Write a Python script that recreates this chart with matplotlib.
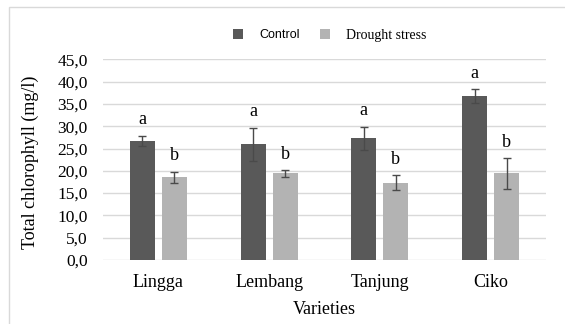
import matplotlib
matplotlib.use("Agg")
import matplotlib.pyplot as plt
import numpy as np
from matplotlib.patches import Patch, Rectangle

categories = ["Lingga", "Lembang", "Tanjung", "Ciko"]
control = [26.7, 25.9, 27.3, 36.8]
control_err = [1.2, 3.7, 2.6, 1.5]
drought = [18.5, 19.4, 17.3, 19.4]
drought_err = [1.3, 0.7, 1.7, 3.4]
control_letters = ["a", "a", "a", "a"]
drought_letters = ["b", "b", "b", "b"]
series_names = ["Control", "Drought stress"]
yticks = [0, 5, 10, 15, 20, 25, 30, 35, 40, 45]

SERIF = ["Liberation Serif", "DejaVu Serif"]
plt.rcParams['font.family'] = SERIF

W, H = 565, 324
fig = plt.figure(figsize=(W / 100, H / 100), dpi=100)
ax = fig.add_axes([103 / W, 1 - 260 / H, (546 - 103) / W, (260 - 59.3) / H])

x = np.arange(len(categories))
bw = 0.225
off = 0.145
c_dark = "#595959"
c_light = "#b3b3b3"
err_kw = dict(ecolor="#4a4a4a", elinewidth=1.0, capsize=3.2, capthick=1.0)

ax.bar(x - off, control, bw, yerr=control_err, color=c_dark, error_kw=err_kw, zorder=3)
ax.bar(x + off, drought, bw, yerr=drought_err, color=c_light, error_kw=err_kw, zorder=3)

for i in range(len(categories)):
    ax.annotate(control_letters[i], (x[i] - off, control[i] + control_err[i]),
                xytext=(0, 5.5), textcoords="offset points", ha="center", va="bottom",
                fontsize=13)
    ax.annotate(drought_letters[i], (x[i] + off, drought[i] + drought_err[i]),
                xytext=(0, 5.5), textcoords="offset points", ha="center", va="bottom",
                fontsize=13)

ax.set_xlim(-0.5, len(categories) - 0.5)
ax.set_ylim(0, 45)
ax.set_yticks(yticks)
ax.set_yticklabels([f"{v:.1f}".replace(".", ",") for v in yticks], fontsize=12.5)
ax.set_xticks(x)
ax.set_xticklabels(categories, fontsize=13)
ax.tick_params(axis="both", length=0)
ax.tick_params(axis="y", pad=11)
ax.tick_params(axis="x", pad=10)
ax.grid(axis="y", color="#d9d9d9", linewidth=1.0, zorder=0)
ax.set_axisbelow(True)
for s in ax.spines.values():
    s.set_visible(False)

fig.text(30 / W, 1 - 162 / H, "Total chlorophyll (mg/l)", rotation=90,
         ha="center", va="center", fontsize=13)
fig.text(324.5 / W, 1 - 310 / H, "Varieties", ha="center", va="center", fontsize=13)

handles = [Patch(facecolor=c_dark), Patch(facecolor=c_light)]
leg = fig.legend(handles, series_names, loc="center",
                 bbox_to_anchor=(330 / W, 1 - 35 / H), ncol=2, frameon=False,
                 handlelength=0.7, handleheight=0.7, handletextpad=1.2,
                 columnspacing=1.4, fontsize=10)
leg.get_texts()[0].set_fontfamily(["Liberation Sans", "DejaVu Sans"])
leg.get_texts()[0].set_fontsize(9)

fig.patches.append(Rectangle((8.5 / W, -0.1), 1.2, 1.1 - 7.5 / H,
                             transform=fig.transFigure, fill=False,
                             edgecolor="#d9d9d9", linewidth=1.0))

fig.savefig("out.png", dpi=100)
